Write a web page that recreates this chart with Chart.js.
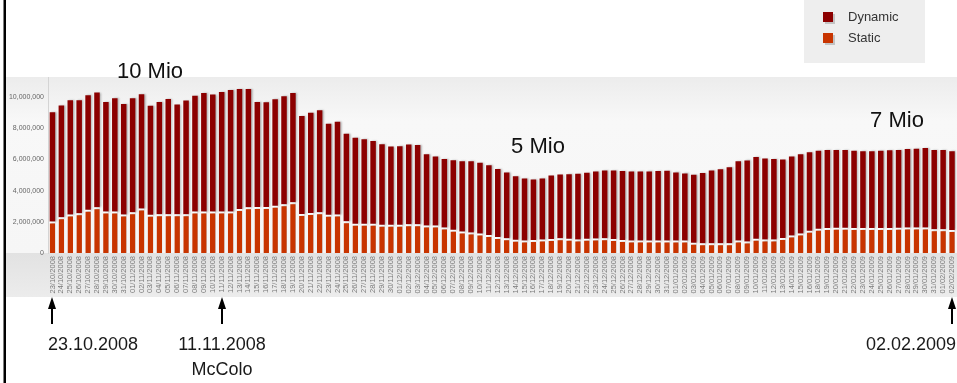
<!DOCTYPE html>
<html>
<head>
<meta charset="utf-8">
<script src="https://cdn.jsdelivr.net/npm/chart.js@4.4.1/dist/chart.umd.min.js"></script>
<style>
  html, body { margin: 0; padding: 0; background: #ffffff; overflow: hidden; }
  #wrap { position: relative; width: 957px; height: 383px; overflow: hidden; }
  canvas { display: block; }
</style>
</head>
<body>
<div id="wrap"><canvas id="c" width="964" height="383"></canvas></div>
<script>
// ---- data ----
const dateLabels = [
  '23/10/2008','24/10/2008','25/10/2008','26/10/2008','27/10/2008','28/10/2008','29/10/2008','30/10/2008','31/10/2008',
  '01/11/2008','02/11/2008','03/11/2008','04/11/2008','05/11/2008','06/11/2008','07/11/2008','08/11/2008','09/11/2008','10/11/2008',
  '11/11/2008','12/11/2008','13/11/2008','14/11/2008','15/11/2008','16/11/2008','17/11/2008','18/11/2008','19/11/2008','20/11/2008',
  '21/11/2008','22/11/2008','23/11/2008','24/11/2008','25/11/2008','26/11/2008','27/11/2008','28/11/2008','29/11/2008','30/11/2008',
  '01/12/2008','02/12/2008','03/12/2008','04/12/2008','05/12/2008','06/12/2008','07/12/2008','08/12/2008','09/12/2008','10/12/2008',
  '11/12/2008','12/12/2008','13/12/2008','14/12/2008','15/12/2008','16/12/2008','17/12/2008','18/12/2008','19/12/2008','20/12/2008',
  '21/12/2008','22/12/2008','23/12/2008','24/12/2008','25/12/2008','26/12/2008','27/12/2008','28/12/2008','29/12/2008','30/12/2008','31/12/2008',
  '01/01/2009','02/01/2009','03/01/2009','04/01/2009','05/01/2009','06/01/2009','07/01/2009','08/01/2009','09/01/2009','10/01/2009',
  '11/01/2009','12/01/2009','13/01/2009','14/01/2009','15/01/2009','16/01/2009','18/01/2009','19/01/2009','20/01/2009',
  '21/01/2009','22/01/2009','23/01/2009','24/01/2009','25/01/2009','26/01/2009','27/01/2009','28/01/2009','29/01/2009','30/01/2009','31/01/2009',
  '01/02/2009','02/02/2009'
];

const staticVals = [
  2.02e6,2.30e6,2.47e6,2.55e6,2.77e6,2.94e6,2.66e6,2.66e6,2.47e6,
  2.62e6,2.85e6,2.45e6,2.49e6,2.49e6,2.49e6,2.49e6,2.66e6,2.66e6,2.66e6,
  2.66e6,2.66e6,2.83e6,2.94e6,2.96e6,2.96e6,3.04e6,3.13e6,3.26e6,2.51e6,
  2.57e6,2.62e6,2.45e6,2.47e6,2.04e6,1.87e6,1.87e6,1.87e6,1.81e6,1.81e6,
  1.81e6,1.85e6,1.85e6,1.77e6,1.77e6,1.64e6,1.49e6,1.38e6,1.32e6,1.25e6,
  1.16e6,1.02e6,0.94e6,0.85e6,0.81e6,0.83e6,0.86e6,0.90e6,0.95e6,0.91e6,
  0.87e6,0.91e6,0.93e6,0.95e6,0.90e6,0.84e6,0.80e6,0.80e6,0.80e6,0.80e6,0.80e6,
  0.80e6,0.80e6,0.66e6,0.62e6,0.62e6,0.62e6,0.62e6,0.81e6,0.74e6,0.91e6,
  0.87e6,0.87e6,0.96e6,1.13e6,1.26e6,1.43e6,1.55e6,1.60e6,1.62e6,
  1.62e6,1.60e6,1.60e6,1.60e6,1.60e6,1.60e6,1.62e6,1.64e6,1.64e6,1.64e6,1.53e6,
  1.53e6,1.47e6
];

const dynamicVals = [
  7.02e6,7.17e6,7.34e6,7.26e6,7.36e6,7.36e6,7.04e6,7.28e6,7.10e6,
  7.32e6,7.34e6,7.00e6,7.21e6,7.40e6,7.04e6,7.30e6,7.43e6,7.62e6,7.51e6,
  7.68e6,7.81e6,7.70e6,7.59e6,6.74e6,6.72e6,6.83e6,6.93e6,7.02e6,6.28e6,
  6.43e6,6.55e6,5.85e6,5.96e6,5.62e6,5.53e6,5.43e6,5.32e6,5.17e6,5.02e6,
  5.04e6,5.11e6,5.09e6,4.57e6,4.42e6,4.40e6,4.47e6,4.51e6,4.57e6,4.54e6,
  4.48e6,4.38e6,4.23e6,4.07e6,3.97e6,3.89e6,3.93e6,4.07e6,4.09e6,4.14e6,
  4.22e6,4.25e6,4.31e6,4.35e6,4.40e6,4.42e6,4.44e6,4.44e6,4.44e6,4.46e6,4.48e6,
  4.37e6,4.31e6,4.36e6,4.51e6,4.68e6,4.76e6,4.89e6,5.08e6,5.20e6,5.26e6,
  5.19e6,5.17e6,5.04e6,5.06e6,5.08e6,5.04e6,5.02e6,5.02e6,5.00e6,
  5.00e6,4.97e6,4.93e6,4.93e6,4.97e6,5.00e6,5.00e6,5.04e6,5.06e6,5.10e6,5.09e6,
  5.09e6,5.06e6
];

const yTicks = [0, 2000000, 4000000, 6000000, 8000000, 10000000];

const seriesNames = ['Static', 'Dynamic'];
const seriesColors = ['#c83400', '#8c0000'];

const calloutTexts = ['10 Mio', '5 Mio', '7 Mio'];
const markerDates = ['23.10.2008', '11.11.2008', '02.02.2009'];
const markerNote = 'McColo';

const FONT = '"Liberation Sans", Arial, sans-serif';

// ---- plugins ----
const backdrop = {
  id: 'backdrop',
  beforeDraw(chart) {
    const c = chart.ctx, a = chart.chartArea;
    c.save();
    c.fillStyle = '#ffffff';
    c.fillRect(0, 0, chart.width, chart.height);
    const g = c.createLinearGradient(0, a.top, 0, a.bottom);
    g.addColorStop(0, '#ececec');
    g.addColorStop(0.25, '#f8f8f8');
    g.addColorStop(1, '#f6f6f6');
    c.fillStyle = g;
    c.fillRect(6, a.top, chart.width, a.bottom - a.top);
    const g2 = c.createLinearGradient(0, a.bottom, 0, a.bottom + 44);
    g2.addColorStop(0, '#e2e2e2');
    g2.addColorStop(1, '#ececec');
    c.fillStyle = g2;
    c.fillRect(6, a.bottom, chart.width, 44);
    c.restore();
  }
};

const barShadow = {
  id: 'barShadow',
  beforeDatasetsDraw(chart) {
    const c = chart.ctx;
    c.save();
    c.shadowColor = 'rgba(0,0,0,0.28)';
    c.shadowOffsetX = 1.5;
    c.shadowOffsetY = 0;
    c.shadowBlur = 2;
  },
  afterDatasetsDraw(chart) {
    chart.ctx.restore();
  }
};

const overlay = {
  id: 'overlay',
  afterDraw(chart) {
    const c = chart.ctx;
    const xs = chart.scales.x;
    c.save();
    // callouts
    c.fillStyle = '#111';
    c.font = '22px ' + FONT;
    c.textAlign = 'center';
    c.textBaseline = 'middle';
    c.fillText(calloutTexts[0], 150, 72);
    c.fillText(calloutTexts[1], 538, 147);
    c.fillText(calloutTexts[2], 897, 121);

    // arrows + dates
    const idx = [0, dateLabels.indexOf('11/11/2008'), dateLabels.length - 1];
    const ax = idx.map(i => Math.round(xs.getPixelForValue(i)));
    ax[2] = Math.min(ax[2], 954);
    c.fillStyle = '#000';
    ax.forEach(x => {
      c.fillRect(x - 1, 305, 2, 19);
      c.beginPath();
      c.moveTo(x, 297);
      c.lineTo(x - 4, 309);
      c.lineTo(x + 4, 309);
      c.closePath();
      c.fill();
    });
    c.fillStyle = '#1a1a1a';
    c.font = '18px ' + FONT;
    c.textBaseline = 'middle';
    c.textAlign = 'left';
    c.fillText(markerDates[0], ax[0] - 4, 345);
    c.textAlign = 'center';
    c.fillText(markerDates[1], ax[1], 345);
    c.fillText(markerNote, ax[1], 370);
    c.textAlign = 'right';
    c.fillText(markerDates[2], 956, 345);

    // legend box
    c.fillStyle = '#eeeeee';
    c.fillRect(804, 0, 121, 63);
    const items = [1, 0];
    c.font = '13px ' + FONT;
    c.textAlign = 'left';
    c.textBaseline = 'middle';
    items.forEach((di, k) => {
      const ds = chart.data.datasets[di];
      const y = 12 + k * 21;
      c.fillStyle = 'rgba(0,0,0,0.18)';
      c.fillRect(825, y + 2, 10, 10);
      c.fillStyle = ds.backgroundColor;
      c.fillRect(823, y, 10, 10);
      c.fillStyle = '#333';
      c.fillText(ds.label, 848, y + 5.5);
    });

    // left frame line
    c.fillStyle = '#000';
    c.fillRect(3.5, 0, 2.5, chart.height);
    c.restore();
  }
};

new Chart(document.getElementById('c'), {
  type: 'bar',
  data: {
    labels: dateLabels,
    datasets: [
      {
        label: seriesNames[0], data: staticVals, backgroundColor: seriesColors[0],
        borderColor: 'rgba(255,255,255,0.95)',
        borderWidth: { top: 2, right: 0, bottom: 0, left: 0 },
        borderSkipped: false, stack: 's'
      },
      { label: seriesNames[1], data: dynamicVals, backgroundColor: seriesColors[1], borderWidth: 0, stack: 's' }
    ]
  },
  options: {
    responsive: false,
    animation: false,
    devicePixelRatio: 1,
    layout: { padding: { top: 77, left: 0, right: 0, bottom: 0 } },
    datasets: { bar: { categoryPercentage: 1.0, barPercentage: 0.62 } },
    plugins: { legend: { display: false }, tooltip: { enabled: false } },
    scales: {
      x: {
        stacked: true,
        grid: { display: false, drawTicks: false },
        border: { display: false },
        ticks: {
          autoSkip: false, maxRotation: 90, minRotation: 90, padding: 3,
          color: '#7a7a7a', font: { size: 7.5, family: FONT }
        },
        afterFit(s) { s.height = 130; }
      },
      y: {
        stacked: true,
        min: 0,
        max: 11300000,
        grid: { display: false, drawTicks: false },
        border: { display: true, color: '#d4d4d4', width: 1 },
        afterBuildTicks(s) { s.ticks = yTicks.map(v => ({ value: v })); },
        ticks: {
          padding: 4, color: '#666', font: { size: 7, family: FONT },
          callback: v => Number(v).toLocaleString('en-US')
        },
        afterFit(s) { s.width = 48; }
      }
    }
  },
  plugins: [backdrop, barShadow, overlay]
});
</script>
</body>
</html>
